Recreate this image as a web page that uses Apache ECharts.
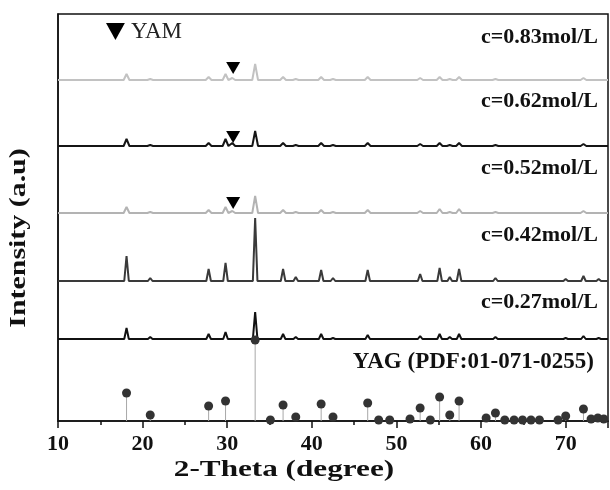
<!DOCTYPE html>
<html lang="en">
<head>
    <meta charset="UTF-8">
    <title>XRD</title>
    <script src="https://cdn.jsdelivr.net/npm/echarts@6/dist/echarts.min.js"></script>
    <style>
        html, body { margin: 0; padding: 0; background: #fff; }
        #chart { width: 610px; height: 490px; }
    </style>
</head>
<body>
<div id="chart"></div>
<script type="text/javascript">

    // peak positions (2-theta) shared by the measured patterns
    var peakPos = [18.1, 20.9, 27.8, 29.8, 30.6, 33.3, 36.6, 38.1, 41.1, 42.5, 46.6, 52.8, 55.1, 56.3, 57.4, 61.7, 70.0, 72.1, 73.9];
    // peak heights for each concentration
    var h083 = [6, 1, 3, 6, 2, 16, 3, 1, 3, 1, 3, 2, 3, 1, 3, 1, 0, 2, 0];
    var h062 = [7, 1, 3, 7, 3, 15, 3, 1, 3, 1, 3, 2, 3, 1, 3, 1, 0, 2, 0];
    var h052 = [6, 1, 3, 6, 2, 17, 3, 1, 3, 1, 3, 2, 4, 1, 4, 1, 0, 2, 0];
    var h042 = [25, 3, 12, 18, 0, 63, 12, 4, 11, 3, 11, 7, 13, 4, 12, 3, 2, 5, 2];
    var h027 = [11, 2, 5, 7, 0, 27, 5, 2, 5, 1, 4, 3, 5, 2, 5, 2, 1, 3, 1];
    var names = ['c=0.83mol/L', 'c=0.62mol/L', 'c=0.52mol/L', 'c=0.42mol/L', 'c=0.27mol/L'];
    var offsets = [341, 275, 208, 140, 82];

    // YAG reference card PDF:01-071-0255
    var yagPos = [18.1, 20.9, 27.8, 29.8, 33.3, 35.1, 36.6, 38.1, 41.1, 42.5, 46.6, 47.9, 49.2, 51.6, 52.8, 54.0, 55.1, 56.3, 57.4, 60.6, 61.7, 62.8, 63.9, 64.9, 65.9, 66.9, 69.1, 70.0, 72.1, 73.0, 73.8, 74.5];
    var yagH = [28, 6, 15, 20, 81, 1, 16, 4, 17, 4, 18, 1, 1, 2, 13, 1, 24, 6, 20, 3, 8, 1, 1, 1, 1, 1, 1, 5, 12, 2, 3, 2];

    // YAM impurity marks
    var yamPos = [30.7, 30.7, 30.7];
    var yamY = [353, 284, 218];

    var xTicks = [10, 20, 30, 40, 50, 60, 70];

    function profile(heights, offset, w) {
        var pts = [[10, offset]];
        for (var i = 0; i < peakPos.length; i++) {
            if (heights[i] <= 0) continue;
            pts.push([peakPos[i] - w, offset]);
            pts.push([peakPos[i], offset + heights[i]]);
            pts.push([peakPos[i] + w, offset]);
        }
        pts.push([75, offset]);
        return pts;
    }

    var colors = ['#c2c2c2', '#151515', '#b3b3b3', '#3a3a3a', '#111111'];
    var heights = [h083, h062, h052, h042, h027];
    var widths = [0.34, 0.34, 0.34, 0.27, 0.27];
    var tri = 'path://M0,0L10,0L5,9Z';
    var font = '"Liberation Serif", "Times New Roman", serif';

    var series = [];
    for (var s = 0; s < names.length; s++) {
        series.push({
            name: names[s],
            type: 'line',
            data: profile(heights[s], offsets[s], widths[s]),
            showSymbol: false,
            lineStyle: {color: colors[s], width: 2},
            z: 3
        });
    }

    series.push({
        name: 'YAG',
        type: 'bar',
        barWidth: 1,
        data: yagPos.map(function (x, i) { return [x, yagH[i]]; }),
        itemStyle: {color: '#a8a8a8'},
        z: 2
    });
    series.push({
        name: 'YAG dots',
        type: 'scatter',
        symbolSize: 9,
        data: yagPos.map(function (x, i) { return [x, yagH[i]]; }),
        itemStyle: {color: '#333', opacity: 1},
        z: 4
    });
    series.push({
        name: 'YAM',
        type: 'scatter',
        symbol: tri,
        symbolSize: [14, 12],
        data: yamPos.map(function (x, i) { return [x, yamY[i]]; }),
        itemStyle: {color: '#000', opacity: 1},
        z: 5
    });

    var labelY = [37, 101, 168, 235, 302];
    var graphics = names.map(function (n, i) {
        return {
            type: 'text', right: 12, top: labelY[i] - 11,
            style: {text: n, font: 'bold 22px ' + font, fill: '#111'}
        };
    });
    graphics.push({
        type: 'text', right: 16, top: 351,
        style: {text: 'YAG (PDF:01-071-0255)', font: 'bold 23px ' + font, fill: '#111'}
    });
    // axis titles (stretched like the source figure)
    graphics.push({
        type: 'text', x: 284, y: 470, scaleX: 1.3,
        style: {text: '2-Theta (degree)', font: 'bold 24px ' + font, fill: '#111',
            textAlign: 'center', textVerticalAlign: 'middle'}
    });
    graphics.push({
        type: 'text', x: 19, y: 238, rotation: Math.PI / 2, scaleX: 1.3,
        style: {text: 'Intensity (a.u)', font: 'bold 23px ' + font, fill: '#111',
            textAlign: 'center', textVerticalAlign: 'middle'}
    });

    var chart = echarts.init(document.getElementById('chart'));
    chart.setOption({
        animation: false,
        grid: {left: 58, right: 2, top: 14, bottom: 69, show: true, borderColor: '#111', borderWidth: 1.5},
        legend: {
            data: [{name: 'YAM', icon: tri}],
            left: 101, top: 15,
            itemWidth: 21, itemHeight: 17, itemGap: 12,
            textStyle: {fontFamily: font, fontSize: 23, color: '#222'}
        },
        xAxis: {
            type: 'value', min: 10, max: 75, interval: 10,
            axisLine: {lineStyle: {color: '#111', width: 1.5}},
            axisTick: {length: 7, lineStyle: {color: '#111', width: 1.5}},
            minorTick: {show: true, splitNumber: 2, length: 4, lineStyle: {color: '#111', width: 1.5}},
            axisLabel: {
                fontFamily: font, fontWeight: 'bold', fontSize: 22, color: '#111', margin: 12,
                showMaxLabel: false,
                formatter: function (v) { return xTicks.indexOf(v) >= 0 ? String(v) : ''; }
            },
            splitLine: {show: false}
        },
        yAxis: {
            type: 'value', min: 0, max: 407,
            axisLine: {show: true, lineStyle: {color: '#111', width: 1.5}},
            axisTick: {show: false}, axisLabel: {show: false}, splitLine: {show: false}
        },
        graphic: graphics,
        series: series
    });
</script>
</body>
</html>
